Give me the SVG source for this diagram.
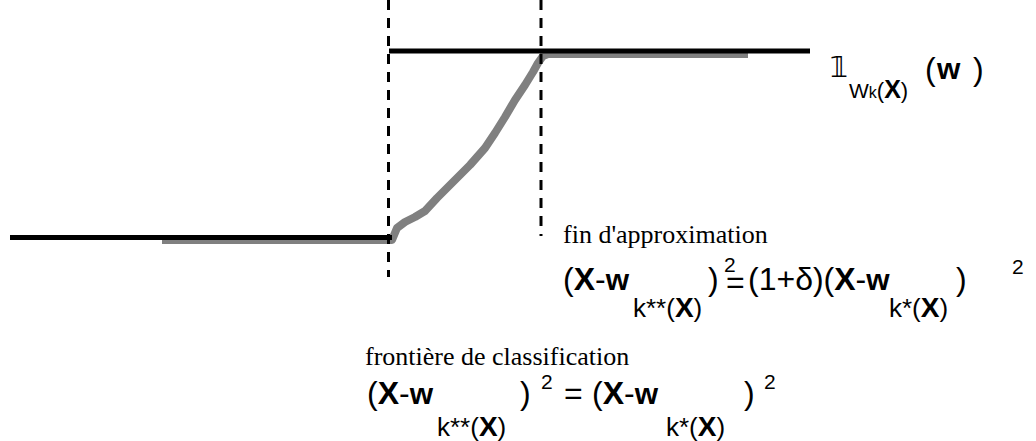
<svg xmlns="http://www.w3.org/2000/svg" width="1036" height="441" viewBox="0 0 1036 441">
<style>
.serif{font-family:"Liberation Serif","Times New Roman",serif;font-size:26px;fill:#000}
.sans{font-family:"Liberation Sans",Arial,sans-serif;fill:#000}
.m{font-size:32px}
.b{font-weight:bold}
.s{font-size:26px}
.sx{font-size:28px;font-weight:bold}
.p{font-size:21px}
.dash{stroke:#000;stroke-width:3;stroke-dasharray:10 8;fill:none}
.blk{stroke:#000;stroke-width:5;fill:none}
.gry{stroke:#808080;stroke-width:8;fill:none;stroke-linejoin:round}
</style>
<rect width="1036" height="441" fill="#fff"/>
<g id="connectors">
<path class="gry" d="M162,240 L392,240 L397,228 L405,222 L415,217 L425,211 L437,198 L455,180 L470,165 L485,148 L495,133 L505,117 L515,100 L525,85 L533,72 L538,63 L543,56 L548,54 L748,54"/>
<line class="blk" x1="10" y1="237.5" x2="392" y2="237.5"/>
<line class="blk" x1="389" y1="51" x2="810" y2="51"/>
<line class="dash" x1="388.5" y1="0" x2="388.5" y2="277"/>
<line class="dash" x1="541" y1="0" x2="541" y2="236"/>
</g>
<g id="indicator">
<text x="830" y="77" font-family="DejaVu Sans, sans-serif" font-size="28">𝟙</text>
<text class="sans" y="98"><tspan x="849" font-size="21">W</tspan><tspan font-size="16">k</tspan><tspan font-size="22">(</tspan><tspan font-weight="bold" font-size="25">X</tspan><tspan font-size="22">)</tspan></text>
<text class="sans" y="80" font-size="32" x="925">(</text>
<text class="sans" y="79" font-size="30" font-weight="bold" x="937">w</text>
<text class="sans" y="80" font-size="32" x="973">)</text>
</g>
<g id="approx">
<text class="serif" x="563" y="243">fin d'approximation</text>
<text class="sans m" x="563" y="290">(<tspan class="b">X</tspan>-<tspan class="b" font-size="30">w</tspan></text>
<text class="sans s" x="633" y="317">k**(<tspan class="sx">X</tspan>)</text>
<text class="sans m" x="708" y="290">)</text>
<text class="sans p" x="724" y="272">2</text>
<text class="sans m" x="726" y="293">=</text>
<text class="sans m" x="748" y="290">(1+δ)(<tspan class="b">X</tspan>-<tspan class="b" font-size="30">w</tspan></text>
<text class="sans s" x="889" y="317">k*(<tspan class="sx">X</tspan>)</text>
<text class="sans m" x="956" y="290">)</text>
<text class="sans p" x="1012" y="274">2</text>
</g>
<g id="boundary">
<text class="serif" x="365" y="365">frontière de classification</text>
<text class="sans m" x="367" y="404">(<tspan class="b">X</tspan>-<tspan class="b" font-size="30">w</tspan></text>
<text class="sans s" x="437" y="436">k**(<tspan class="sx">X</tspan>)</text>
<text class="sans m" x="520" y="404">)</text>
<text class="sans p" x="541" y="389">2</text>
<text class="sans m" x="564" y="404">=</text>
<text class="sans m" x="592" y="404">(<tspan class="b">X</tspan>-<tspan class="b" font-size="30">w</tspan></text>
<text class="sans s" x="666" y="436">k*(<tspan class="sx">X</tspan>)</text>
<text class="sans m" x="744" y="404">)</text>
<text class="sans p" x="764" y="389">2</text>
</g>
</svg>
